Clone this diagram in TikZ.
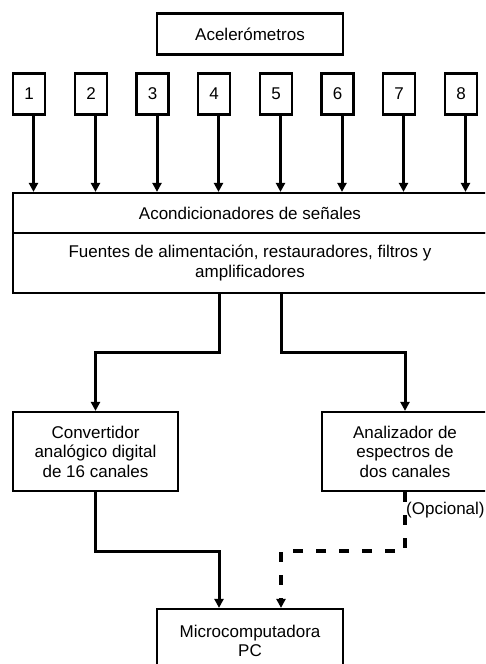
\documentclass[tikz,border=0pt]{standalone}
\usepackage{fontspec}
\setmainfont{Liberation Sans}
\usetikzlibrary{arrows.meta,calc}
\begin{document}
\begin{tikzpicture}[x=1pt,y=-1pt,
  box/.style={draw=black,line width=2.2pt,fill=white,inner sep=0pt,align=center,
    font=\fontsize{17}{19.5}\selectfont},
  conn/.style={line width=3pt,-{Triangle[length=9pt,width=9pt]}},
  dconn/.style={line width=3.5pt,dash pattern=on 10pt off 13pt,-{Triangle[length=9pt,width=9pt]}},
  txt/.style={inner sep=0pt,font=\fontsize{17}{19.5}\selectfont}]
\useasboundingbox (0,0) rectangle (485,664);
\clip (0,0) rectangle (485,664);
% top box
\node[box,minimum width=186pt,minimum height=41pt] (acel) at (250,34) {Acelerómetros};
% numbered boxes
\foreach \i/\x in {1/29,2/91,3/152.5,4/214,5/276,6/337.5,7/399,8/461}{
  \node[box,minimum width=32pt,minimum height=41pt] (n\i) at (\x,94) {\i};
}
% big box
\node[box,minimum width=474pt,minimum height=40pt] (acond) at (250,213) {Acondicionadores de señales};
\node[box,minimum width=474pt,minimum height=60pt] (fuentes) at (250,263)
  {Fuentes de alimentación, restauradores, filtros y\\amplificadores};
% arrows from sensors
\foreach \i in {1,...,8}{
  \draw[conn] ([xshift=4.5pt]n\i.south) -- ([xshift=4.5pt]n\i.south |- acond.north);
}
% lower boxes
\node[box,minimum width=165pt,minimum height=79pt] (conv) at (95.5,451.5)
  {Convertidor\\analógico digital\\de 16 canales};
\node[box,minimum width=166pt,minimum height=79pt] (anal) at (405,451.5)
  {Analizador de\\espectros de\\dos canales};
\node[box,minimum width=186pt,minimum height=64pt] (micro) at (250,641)
  {Microcomputadora\\PC};
% connectors
\coordinate (fl) at (219,293);
\coordinate (fr) at (281,293);
\draw[conn] (fl) -- ++(0,59) -| (conv.north);
\draw[conn] (fr) -- ++(0,59) -| (anal.north);
\draw[conn] (conv.south) -- ++(0,59) -| ([xshift=-31pt]micro.north);
\draw[dconn] (anal.south) -- ++(0,59) -| ([xshift=31pt]micro.north);
\node[txt,anchor=west] (opc) at (406,510) {(Opcional)};
\end{tikzpicture}
\end{document}
